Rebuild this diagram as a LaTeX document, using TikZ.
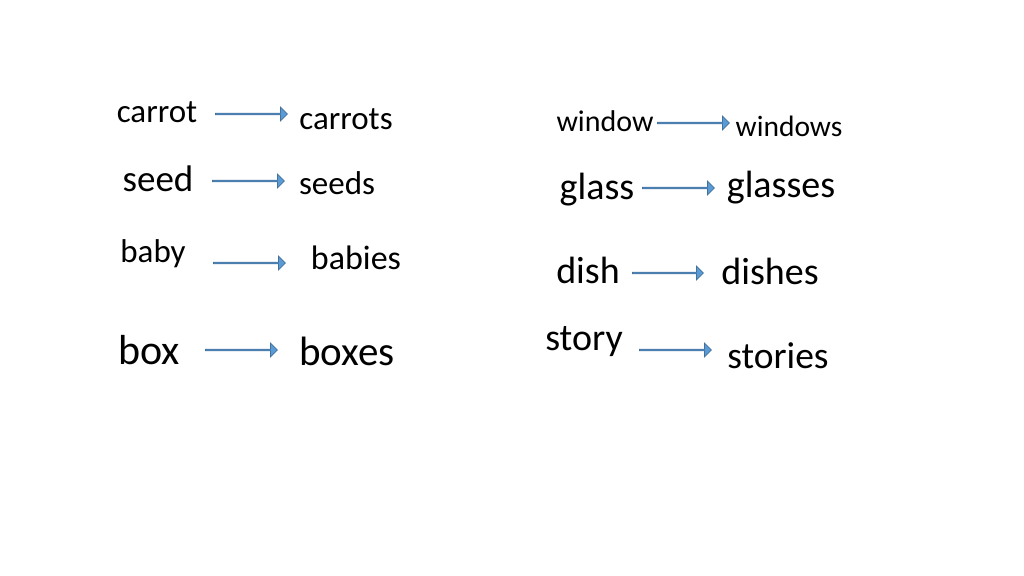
\documentclass[tikz,border=0pt]{standalone}
\usepackage{fontspec}
\setmainfont{Carlito}
\usetikzlibrary{shapes.arrows}
\begin{document}
\begin{tikzpicture}[x=1pt,y=-1pt,
  w/.style={inner sep=0pt,font=\fontsize{#1}{#1}\selectfont},
  ar/.style={single arrow,draw=arrowline,fill=arrowfill,line width=0.8pt,minimum width=14pt,single arrow head extend=3pt,single arrow head indent=0pt,minimum height=72pt,inner sep=0pt,anchor=west}]
\definecolor{arrowfill}{HTML}{5B9BD5}
\definecolor{arrowline}{HTML}{41719C}
\useasboundingbox (0,0) rectangle (1024,575);
\node[w=33] (a1) at (157,112) {carrot};
\node[w=33] (b1) at (346,119) {carrots};
\node[w=37] (a2) at (158,179) {seed};
\node[w=33] (b2) at (337,183) {seeds};
\node[w=33] (a3) at (153,254) {baby};
\node[w=34] (b3) at (356,258) {babies};
\node[w=42] (a4) at (149,350) {box};
\node[w=41] (b4) at (347,351) {boxes};
\node[w=30] (a5) at (605,121) {window};
\node[w=29.5] (b5) at (789,126) {windows};
\node[w=38] (a6) at (597,190) {glass};
\node[w=38] (b6) at (781,188) {glasses};
\node[w=38] (a7) at (588,270) {dish};
\node[w=38] (b7) at (770,271) {dishes};
\node[w=38] (a8) at (584,342) {story};
\node[w=37.5] (b8) at (778,356) {stories};
\node[ar] (r1) at (215,114) {};
\node[ar] (r2) at (212,181) {};
\node[ar] (r3) at (213,263) {};
\node[ar] (r4) at (205,350) {};
\node[ar] (r5) at (657,123) {};
\node[ar] (r6) at (642,188) {};
\node[ar,minimum height=71pt] (r7) at (632,273) {};
\node[ar] (r8) at (639,350) {};
\end{tikzpicture}
\end{document}
